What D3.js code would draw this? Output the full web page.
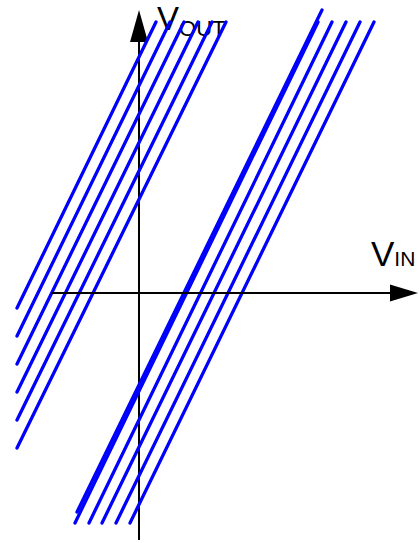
<!DOCTYPE html>
<html>
<head>
<meta charset="utf-8">
<script src="https://cdn.jsdelivr.net/npm/d3@7"></script>
<style>
  html, body { margin: 0; padding: 0; background: #fff; }
  svg { display: block; }
  text { font-family: "Liberation Sans", Arial, sans-serif; fill: #000; }
</style>
</head>
<body>
<svg id="chart" width="419" height="543"></svg>
<script>
// Transfer curves, VOUT vs VIN, each given by its two end points [vin, vout].
const leftFamily = [
  [[0.85, 13.55], [-6.1, -0.75]],
  [[1.55, 13.55], [-6.1, -2.15]],
  [[2.25, 13.55], [-6.1, -3.55]],
  [[2.95, 13.55], [-6.1, -4.95]],
  [[3.65, 13.55], [-6.1, -6.35]],
  [[4.35, 13.55], [-6.1, -7.75]]
];
const rightFamily = [
  [[9.15, 14.15], [-3.1, -10.95]],
  [[8.95, 13.55], [-3.2, -11.5]],
  [[9.65, 13.55], [-2.5, -11.5]],
  [[10.35, 13.55], [-1.85, -11.5]],
  [[11.05, 13.55], [-1.15, -11.5]],
  [[11.75, 13.55], [-0.45, -11.5]]
];
// Axis extents (data units)
const vinAxisExtent = [-4.4, 13.95];
const voutAxisExtent = [-12.35, 14.15];
const axisLabels = [
  { main: "V", sub: "OUT" },
  { main: "V", sub: "IN" }
];

const svg = d3.select("#chart");

const x = d3.scaleLinear().domain([-6.1, 14.0]).range([17, 419]);
const y = d3.scaleLinear().domain([-12.5, 14.65]).range([543, 0]);
const x0 = x(0), y0 = y(0);

// Labels (drawn first so the curves pass over them)
const tOut = svg.append("text").attr("x", x0 + 18).attr("y", 30);
tOut.append("tspan").attr("font-size", 33).text(axisLabels[0].main);
tOut.append("tspan").attr("font-size", 22).attr("dy", 6).text(axisLabels[0].sub);

const tIn = svg.append("text").attr("x", 371).attr("y", 266);
tIn.append("tspan").attr("font-size", 35).text(axisLabels[1].main);
tIn.append("tspan").attr("font-size", 21).text(axisLabels[1].sub);

const axes = svg.append("g");

// vertical (VOUT) axis with arrow head
const vTip = y(voutAxisExtent[1]);
axes.append("line")
  .attr("x1", x0).attr("x2", x0)
  .attr("y1", y(voutAxisExtent[0])).attr("y2", vTip + 30)
  .attr("stroke", "#000").attr("stroke-width", 2);
axes.append("path")
  .attr("d", `M${x0},${vTip} L${x0 - 9},${vTip + 32} L${x0 + 9},${vTip + 32} Z`)
  .attr("fill", "#000");

const line = d3.line().x(d => x(d[0])).y(d => y(d[1]));

// Curves
svg.append("g")
  .selectAll("path")
  .data(leftFamily.concat(rightFamily))
  .join("path")
  .attr("d", line)
  .attr("fill", "none")
  .attr("stroke", "#0000ff")
  .attr("stroke-width", 3.3)
  .attr("stroke-linecap", "round");

// horizontal (VIN) axis with arrow head
const hTip = x(vinAxisExtent[1]);
svg.append("line")
  .attr("y1", y0).attr("y2", y0)
  .attr("x1", x(vinAxisExtent[0])).attr("x2", hTip - 26)
  .attr("stroke", "#000").attr("stroke-width", 2);
svg.append("path")
  .attr("d", `M${hTip},${y0} L${hTip - 28},${y0 - 8.5} L${hTip - 28},${y0 + 8.5} Z`)
  .attr("fill", "#000");
</script>
</body>
</html>
